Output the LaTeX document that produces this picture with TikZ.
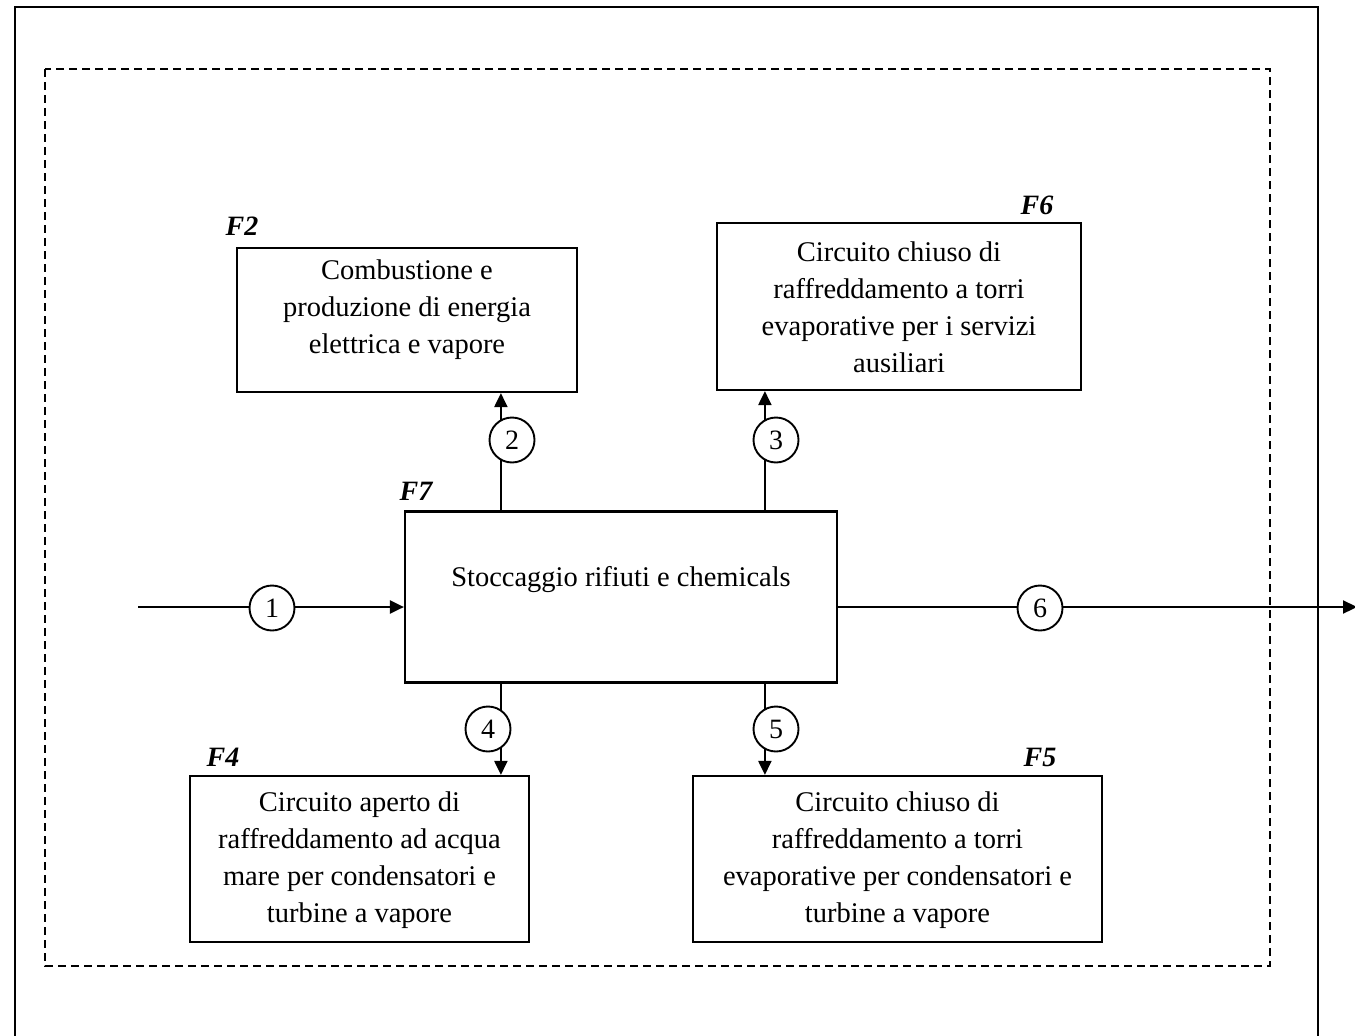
\documentclass[tikz,border=0pt]{standalone}
\usepackage{fontspec}
\setmainfont{Liberation Serif}
\usetikzlibrary{arrows.meta,calc}
\tikzset{
  boxnode/.style={draw,line width=2.2pt,inner sep=0pt},
  txt/.style={align=center,inner sep=0pt,font=\fontsize{28.5}{37}\selectfont},
  flabel/.style={inner sep=0pt,font=\fontsize{28}{32}\selectfont\bfseries\itshape},
  num/.style={circle,draw,line width=1.9pt,fill=white,minimum size=45pt,inner sep=0pt,font=\fontsize{28}{32}\selectfont},
  arr/.style={line width=2.2pt,-{Triangle[length=14pt,width=13pt]}}
}
\begin{document}
\begin{tikzpicture}[x=1pt,y=-1pt]
\useasboundingbox (0,0) rectangle (1355,1036);
% outer frame
\draw[line width=2.6pt] (15,1040) -- (15,7) -- (1318,7) -- (1318,1040);
% dashed box
\draw[line width=1.8pt,dash pattern=on 8pt off 5pt] (45,69) rectangle (1270,966);
% boxes
\node[boxnode,minimum width=340pt,minimum height=144pt] (f2) at (407,320) {};
\node[boxnode,minimum width=364pt,minimum height=167pt] (f6) at (899,306.5) {};
\node[boxnode,minimum width=432pt,minimum height=171pt] (f7) at (621,597) {};
\node[boxnode,minimum width=339pt,minimum height=166pt] (f4) at (359.5,859) {};
\node[boxnode,minimum width=409pt,minimum height=166pt] (f5) at (897.5,859) {};
% texts
\node[txt] (t2) at (407,310) {Combustione e\\produzione di energia\\elettrica e vapore};
\node[txt] (t6) at (899,307) {Circuito chiuso di\\raffreddamento a torri\\evaporative per i servizi\\ausiliari};
\node[txt] (t7) at (621,580) {Stoccaggio rifiuti e chemicals};
\node[txt] (t4) at (359.5,860) {Circuito aperto di\\raffreddamento ad acqua\\mare per condensatori e\\turbine a vapore};
\node[txt] (t5) at (897.5,860) {Circuito chiuso di\\raffreddamento a torri\\evaporative per condensatori e\\turbine a vapore};
% labels
\node[flabel] (l2) at (242,226) {F2};
\node[flabel] (l6) at (1037,205) {F6};
\node[flabel] (l7) at (416,491) {F7};
\node[flabel] (l4) at (223,757) {F4};
\node[flabel] (l5) at (1040,757) {F5};
% connectors
\coordinate (in) at (138,607);
\coordinate (out) at (1357,607);
\draw[arr] (in) -- (in -| f7.west);
\draw[arr] (f7.east |- out) -- (out);
\draw[arr] ([xshift=97pt]f7.north west) -- ([xshift=97pt]f7.north west |- f2.south);
\draw[arr] ([xshift=361pt]f7.north west) -- ([xshift=361pt]f7.north west |- f6.south);
\draw[arr] ([xshift=97pt]f7.south west) -- ([xshift=97pt]f7.south west |- f4.north);
\draw[arr] ([xshift=361pt]f7.south west) -- ([xshift=361pt]f7.south west |- f5.north);
% numbered circles
\node[num] (c1) at (272,608) {1};
\node[num] (c2) at (512,440) {2};
\node[num] (c3) at (776,440) {3};
\node[num] (c4) at (488,729) {4};
\node[num] (c5) at (776,729) {5};
\node[num] (c6) at (1040,608) {6};
\end{tikzpicture}
\end{document}
